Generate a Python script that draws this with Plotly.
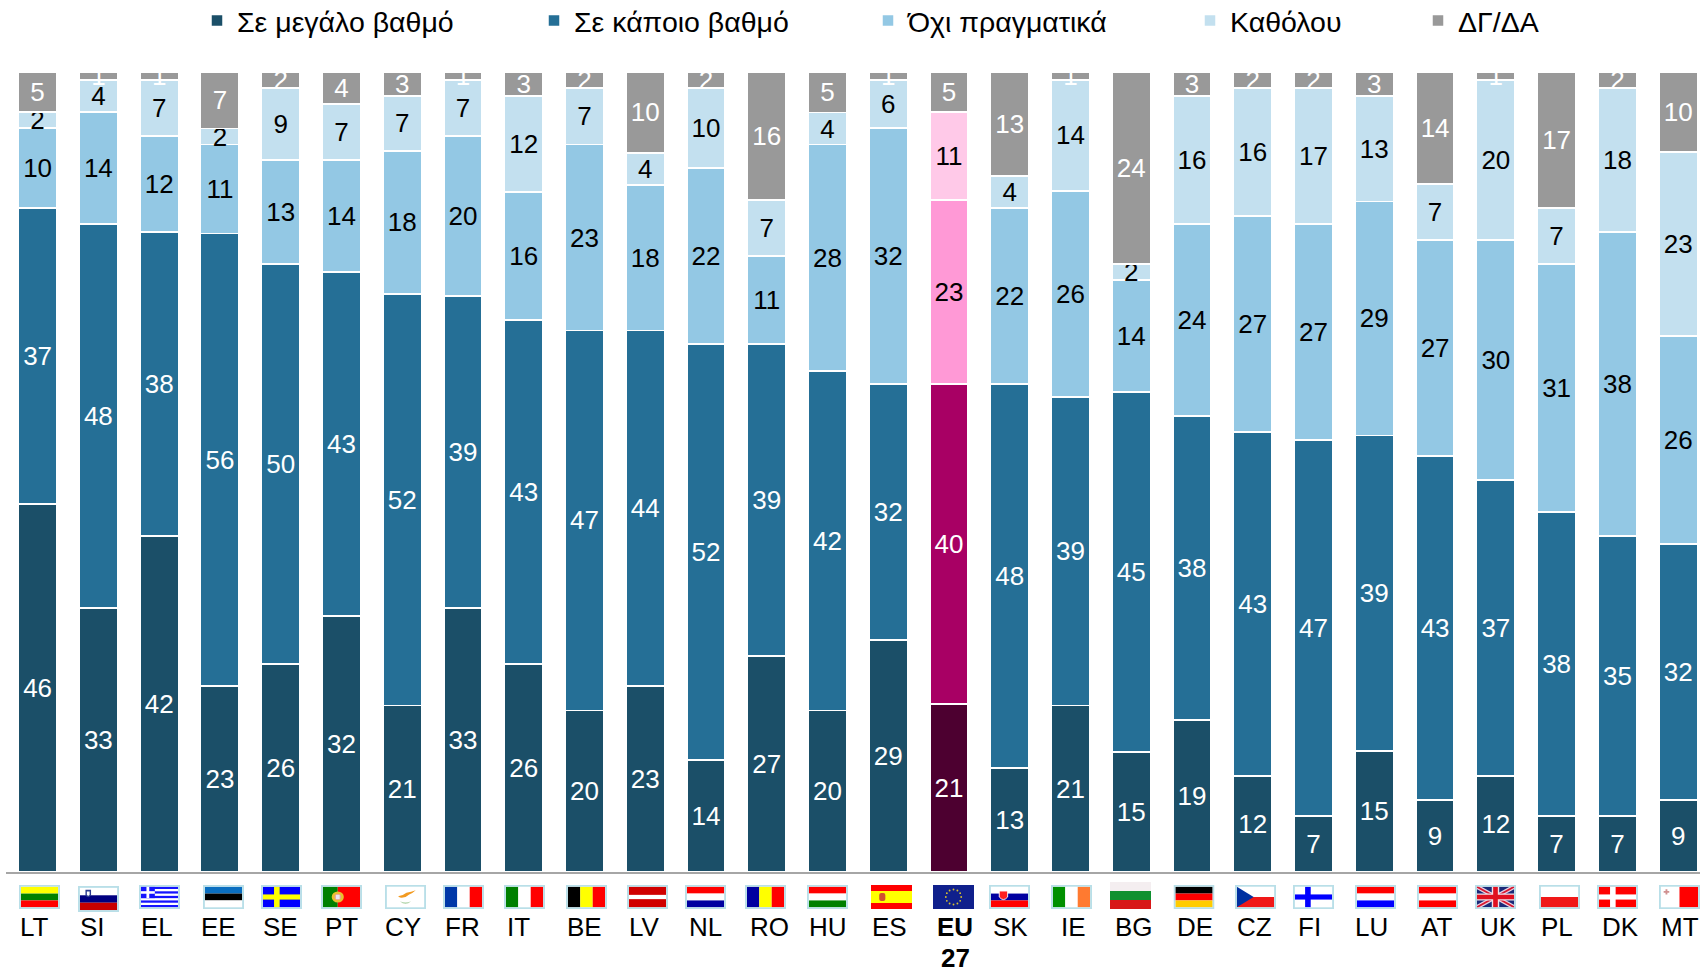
import base64
import plotly.graph_objects as go

COUNTRIES = ["LT","SI","EL","EE","SE","PT","CY","FR","IT","BE","LV","NL","RO","HU","ES","EU 27",
             "SK","IE","BG","DE","CZ","FI","LU","AT","UK","PL","DK","MT"]
GREAT = [46,33,42,23,26,32,21,33,26,20,23,14,27,20,29,21,13,21,15,19,12,7,15,9,12,7,7,9]
SOME  = [37,48,38,56,50,43,52,39,43,47,44,52,39,42,32,40,48,39,45,38,43,47,39,43,37,38,35,32]
NOTREALLY = [10,14,12,11,13,14,18,20,16,23,18,22,11,28,32,23,22,26,14,24,27,27,29,27,30,31,38,26]
NOTATALL  = [2,4,7,2,9,7,7,7,12,7,4,10,7,4,6,11,4,14,2,16,16,17,13,7,20,7,18,23]
DKNA  = [5,1,1,7,2,4,3,1,3,2,10,2,16,5,1,5,13,1,24,3,2,2,3,14,1,17,2,10]
SERIES_NAMES = ["Σε μεγάλο βαθμό","Σε κάποιο βαθμό","Όχι πραγματικά","Καθόλου","ΔΓ/ΔΑ"]
SERIES = [GREAT, SOME, NOTREALLY, NOTATALL, DKNA]

COLORS = ["#1b4f68","#256f96","#93c8e4","#c3e0ef","#999999"]
EU_COLORS = ["#4d0030","#a80064","#ff99d6","#ffc9e8","#999999"]
TEXT_COLORS = ["white","white","black","black","white"]
LEGEND_LEFT = [197,534,868,1190,1418]

W, H = 1700, 968
L, R, T, B = 6, 0, 72, 96
FONT = "Liberation Sans"
EU_I = COUNTRIES.index("EU 27")

LABEL_SHIFT = [-3.6,-6,-2,-1,0,0,1,0,-5,0,-1,0,3,1,1,6,1,3,3,3,2,-4,-3,1,3,0,3,2]
FLAG_LEFT = [19,78,139,203,261,321,385,443,504,566,627,685,745,807,871,933,989,1051,1110,1173.5,
             1235,1293,1355,1417,1475,1539,1597,1659]

def hs(*c):
    h = 24/len(c)
    return "".join(f'<rect y="{i*h}" width="40" height="{h}" fill="{x}"/>' for i,x in enumerate(c))
def vs(*c):
    w = 40/len(c)
    return "".join(f'<rect x="{i*w}" width="{w}" height="24" fill="{x}"/>' for i,x in enumerate(c))
def nordic(bg, fg, cx=15):
    return (f'<rect width="40" height="24" fill="{bg}"/><rect x="{cx-3}" width="6" height="24" fill="{fg}"/>'
            f'<rect y="9" width="40" height="6" fill="{fg}"/>')
greek = ('<rect width="40" height="24" fill="#1414ff"/>' +
         "".join(f'<rect y="{y}" width="40" height="2.67" fill="white"/>' for y in (2.67,8,13.33,18.67)) +
         '<rect width="15" height="13.3" fill="#1414ff"/><rect x="6" width="3" height="13.3" fill="white"/>'
         '<rect y="5.2" width="15" height="3" fill="white"/>')
stars = "".join(f'<circle cx="{20+7.5*c:.1f}" cy="{12+7.5*s:.1f}" r="0.9" fill="#d8c030"/>' for c,s in
                [(0,-1),(.5,-.866),(.866,-.5),(1,0),(.866,.5),(.5,.866),(0,1),(-.5,.866),(-.866,.5),(-1,0),(-.866,-.5),(-.5,-.866)])
uk = ('<rect width="40" height="24" fill="#1a2a78"/>'
      '<path d="M0 0L40 24M40 0L0 24" stroke="#e8d0e0" stroke-width="5"/>'
      '<path d="M0 0L40 24M40 0L0 24" stroke="#d81830" stroke-width="2"/>'
      '<path d="M20 0V24M0 12H40" stroke="#f0e0e8" stroke-width="8"/>'
      '<path d="M20 0V24M0 12H40" stroke="#e01020" stroke-width="5"/>')
FLAGS = {
 "LT": (hs("#ffff00","#008000","#ff0000"), True),
 "SI": (hs("white","#000080","#c80000") + '<path d="M6 2h6v6q-3 4-6 0z" fill="#2a3a90"/><path d="M7.5 4h3v3.5q-1.5 2-3 0z" fill="white"/>', True),
 "EL": (greek, True),
 "EE": (hs("#0a6ec0","black","white"), True),
 "SE": (nordic("#0000ff","#ffff00"), True),
 "PT": ('<rect x="0" width="16" height="24" fill="#008000"/><rect x="16" width="24" height="24" fill="#ff0000"/>'
        '<circle cx="16" cy="12" r="6.5" fill="#e8c030"/><circle cx="16" cy="12" r="3.5" fill="#e8a0a0"/><rect x="14" y="9.5" width="4" height="5" fill="#e8e8f0"/>', True),
 "CY": ('<rect width="40" height="24" fill="white"/><path d="M12 11q6-1 9-4 5-1 10-3-4 4-7 5-4 4-8 4-2 0-4-2z" fill="#f29a20"/>'
        '<path d="M14 17q6 6 12 0-6 3-12 0z" fill="#a8d0a0"/>', True),
 "FR": (vs("#0038a8","white","#ff0000"), True),
 "IT": (vs("#008000","white","#ff0000"), True),
 "BE": (vs("black","#ffff00","#ff0000"), True),
 "LV": ('<rect width="40" height="24" fill="#d00000"/><rect y="9.5" width="40" height="5" fill="white"/>', True),
 "NL": (hs("#ff0000","white","#0000a0"), True),
 "RO": (vs("#0000a0","#ffff00","#ff0000"), True),
 "HU": (hs("#ff0000","white","#008000"), True),
 "ES": ('<rect width="40" height="24" fill="#ff0000"/><rect y="6" width="40" height="12" fill="#ffff00"/>'
        '<rect x="8" y="8" width="6" height="8" rx="2" fill="#d05030"/>', False),
 "EU 27": ('<rect width="40" height="24" fill="#10208c"/>' + stars, False),
 "SK": (hs("white","#0000a0","#ff0000") + '<path d="M9 5h9v7q-4.5 6-9 0z" fill="#ff2020" stroke="white"/>', True),
 "IE": (vs("#009000","white","#ff7a30"), True),
 "BG": (hs("#f4eef0","#109030","#d81818"), False),
 "DE": (hs("black","#ff0000","#ffcc00"), True),
 "CZ": (hs("white","#f01818") + '<path d="M0 0L18 12L0 24z" fill="#0030a0"/>', True),
 "FI": (nordic("white","#0000ff",14), True),
 "LU": (hs("#ff0000","white","#0000ff"), True),
 "AT": (hs("#ff0000","white","#ff0000"), True),
 "UK": (uk, True),
 "PL": (hs("white","#f01818"), True),
 "DK": (nordic("#ff0000","white",15), True),
 "MT": (vs("white","#ff0000") + '<path d="M5 3h2v2h2v2h-2v2h-2v-2h-2v-2h2z" fill="#d09090"/>', True),
}
def flag_uri(code):
    body, border = FLAGS[code]
    pad = 2 if border else 0
    vb = f"{-pad} {-pad} {40+2*pad} {24+2*pad}"
    frame = f'<rect x="-1" y="-1" width="42" height="26" fill="none" stroke="#b9dfe8" stroke-width="2"/>' if border else ""
    svg = (f'<svg xmlns="http://www.w3.org/2000/svg" width="{40+2*pad}" height="{24+2*pad}" viewBox="{vb}" '
           f'preserveAspectRatio="none">{body}{frame}</svg>')
    return "data:image/svg+xml;base64," + base64.b64encode(svg.encode()).decode()

fig = go.Figure()
pw, ph = W-L-R, H-T-B
for k,(name,vals) in enumerate(zip(SERIES_NAMES,SERIES)):
    cols = [EU_COLORS[k] if i==EU_I else COLORS[k] for i in range(len(vals))]
    lg = "legend" if k==0 else f"legend{k+1}"
    fig.add_bar(x=COUNTRIES, y=vals, name=name, legend=lg, showlegend=True,
                marker=dict(color=cols, line=dict(color="white", width=1.5)),
                text=vals, textposition="inside", insidetextanchor="middle", constraintext="none",
                textangle=0, textfont=dict(family=FONT,size=26,color=TEXT_COLORS[k]), hoverinfo="x+y+name")

legends = {}
for k,px in enumerate(LEGEND_LEFT):
    legends["legend" if k==0 else f"legend{k+1}"] = dict(
        xref="container", yref="container", x=px/W, y=1-21/H, xanchor="left", yanchor="middle", orientation="h",
        font=dict(family=FONT,size=28.5,color="black"), bgcolor="rgba(0,0,0,0)", borderwidth=0)

anns = []
for i,c in enumerate(COUNTRIES):
    if c == "EU 27":
        anns.append(dict(x=c, y=0, xref="x", yref="y", yanchor="top", yshift=-38, xshift=LABEL_SHIFT[i], showarrow=False,
                         text="<b>EU</b>", font=dict(family=FONT,size=26,color="black")))
        anns.append(dict(x=c, y=0, xref="x", yref="y", yanchor="top", yshift=-70, xshift=LABEL_SHIFT[i], showarrow=False,
                         borderpad=0, text="<b>27</b>", font=dict(family=FONT,size=26,color="black")))
    else:
        anns.append(dict(x=c, y=0, xref="x", yref="y", yanchor="top", yshift=-38, xshift=LABEL_SHIFT[i], showarrow=False,
                         text=c, font=dict(family=FONT,size=26,color="black")))
imgs = []
for i,c in enumerate(COUNTRIES):
    y_top, y_bot = 885, 909
    if c == "SI": y_top, y_bot = 886, 912
    if c == "BG": y_top, y_bot = 882, 909
    imgs.append(dict(source=flag_uri(c), xref="paper", yref="paper", sizing="stretch", layer="above",
                     x=(FLAG_LEFT[i]-L)/pw, y=(H-B-y_top)/ph, sizex=41/pw, sizey=(y_bot-y_top)/ph,
                     xanchor="left", yanchor="top"))

fig.update_layout(width=W, height=H, margin=dict(l=L,r=R,t=T,b=B,pad=0,autoexpand=False), barmode="stack", barnorm="percent", bargap=0.37,
                  showlegend=True, plot_bgcolor="white", paper_bgcolor="white", annotations=anns, images=imgs,
                  font=dict(family=FONT), **legends)
fig.update_xaxes(type="category", categoryorder="array", categoryarray=COUNTRIES, range=[-0.52,27.36],
                 showticklabels=False, ticks="", showgrid=False, showline=True, linecolor="#a6a6a6", linewidth=2)
fig.update_yaxes(range=[0,100], visible=False, showgrid=False)
fig.write_html("out.html", config=dict(displayModeBar=False), post_script="document.body.style.margin='0';")
